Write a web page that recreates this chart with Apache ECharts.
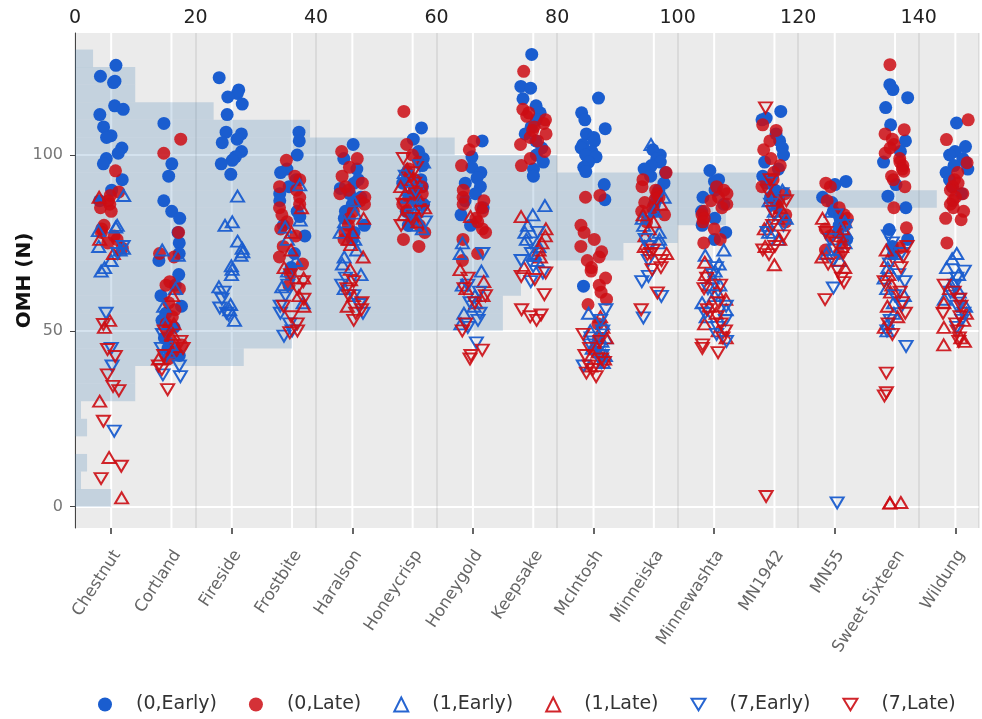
<!DOCTYPE html>
<html><head><meta charset="utf-8">
<script src="https://cdn.jsdelivr.net/npm/echarts@6/dist/echarts.min.js"></script>
<style>html,body{margin:0;padding:0;background:#fff}#c{width:982px;height:719px}</style>
</head><body><div id="c"></div>
<script>
const cultivars = ['Chestnut','Cortland','Fireside','Frostbite','Haralson','Honeycrisp','Honeygold','Keepsake','McIntosh','Minneiska','Minnewashta','MN1942','MN55','Sweet Sixteen','Wildung'];
const seriesNames = ['(0,Early)','(0,Late)','(1,Early)','(1,Late)','(7,Early)','(7,Late)'];
const yTicks = [0, 50, 100];
const countTicks = [0, 20, 40, 60, 80, 100, 120, 140];

// histogram of OMH (bins of 5 N)
const binStarts = [0,5,10,15,20,25,30,35,40,45,50,55,60,65,70,75,80,85,90,95,100,105,110,115,120,125];
const binCounts = [6,1,2,0,2,1,10,10,28,36,71,71,74,74,91,100,108,143,113,80,63,39,23,10,10,3];
const binWidth = 5;

// values per cultivar (same order as cultivars)
const d0Early = [
 [125.5,122.4,121,120.6,114,113,111.5,108,105.5,105,102,100.5,99,97.5,93,90,87],
 [109,97.5,94,87,84,82,78,75,72,70,66,63,60,57,55,53,51,48,45,43],
 [122,118.5,117.5,116.5,114.5,111.5,106.5,106,104.5,103.5,101,99.5,98.5,97.5,94.5],
 [106.5,104,100,96,95,93,91,89,87,84,82.5,80,77,72,68],
 [103,99,96,93,92,90.5,89,88,86,84,82,80,78,76],
 [107.7,104.5,101,99,97,95,93,92,91,89,88,86,84,82,80],
 [104,99.5,96.5,95,93.5,92,91,89,87,85,83,80],
 [128.6,119.5,119,116,114,112,110,108,106,104,102,100,98,96,94],
 [116.2,112,110,107.5,106,105,104,103,102,101,100,99.5,98,96.5,95.3,91.6,87.3,62.7],
 [101.5,100,99,98,97,96,95,94,92,90,88,86,84],
 [95.6,93,92.5,90,88,86,84,82,80,78,76],
 [112.4,110.5,110,106,104,102,100,98,96,94,92,90,88,86],
 [92.5,91.6,88,86.5,84,82,80,78,76],
 [120,118.6,116.3,113.5,108.6,104,101,98,91.6,88.3,85,78.8,76,74,72],
 [109.1,102.4,101,100,99,98,97,96,95,93,91,89]
];
const d0Late = [
 [95.5,89.5,88.5,87,86,85,84,80,79,78,77,76,75,73.5],
 [104.5,100.5,78,72,71,64,63,62,58,56,54,52,50,48,46,44,42],
 [],
 [98.5,94,93,91,90,88,86,85,83,81,79,77,74,71,69,66,63],
 [101,99,96.5,94,92,91,90,89,88,87,86,84,82,80,78,76],
 [112.4,103,100,98,96,94,93,91,90,89,87,86,84,82,80,78,76,74],
 [103.9,101.5,97,90,88,87,86,85,84,82,81,79,78,76,72,70],
 [123.8,113,112,111,110,109,108,107,106,105,104,103,101,99,97],
 [88.5,88,80,78,76,74,72.5,71,70,68,67,65,63,61,59,57.5,52,48,44],
 [95,93,91,90,89,88,87.5,86.5,85,84,83,81],
 [91,90,89,88,87,86,85,84,83,82,81,79,76,75],
 [108.6,107,104,101.5,99,97,95,93,91,89,87,85,83,81],
 [92,91,87,85,83,82,80,79,77,75,73,72],
 [125.7,107.2,106,104.5,103,102,100.5,99,98,97,96,95.4,94,93,91,85,79.3,73.6],
 [110,104.4,97.8,95,93,92,91,90,89,88,87,86,85,84,82,81.6,75]
];
const d1Early = [
 [88.5,80,79.5,78.5,74,73.5,73,70,68,67],
 [73,71.5,62,57,52,46,44],
 [88.3,81,80,75.5,73.5,72.5,71.5,68.5,67.5,66,62.5,57.5,56,53],
 [91.5,81.5,79.5,76,70,67,62.5,58],
 [87,83.5,81,78,76,73,71,69,66,62],
 [98,95,92,90,88,86,84,82,80,79],
 [75,72,67,63,60,57,55,52],
 [85.6,83,80,78,76,74,72,70],
 [55,52,50,48,47,45,43,41],
 [103,88,84,82,80,78,76,75],
 [73,71.5,69,67,65,63,60,58,56,54],
 [90,87,84,82,80,78,76],
 [84,81,78,75,72,70],
 [72,68,65,62,60,58,55,52,50],
 [72,70.5,68,66,64,63,61,59,57]
];
const d1Late = [
 [88,76,72,53,51,30,14,2.5],
 [60,52,49,45.5,42],
 [],
 [85,78,73,68,65,60,57],
 [82,78,76,74.5,71,67.5,64.5,60,57],
 [96,93,91,89,87,85,83,81],
 [82.5,67.4,64,62,60,58],
 [82.5,79,77,75,73,71,68],
 [54,51,48,46,44,42,40],
 [86,83,81,79,77,74,72],
 [69.5,66,63,61,59,57,55,52,50,48],
 [88,85,82,79,76,74,68.8],
 [82,79,77,74,71,68],
 [73,70,66,63,61,57,54,51,1.1,1.0,1.2],
 [62,58,55,53,51,48,47,46]
];
const d7Early = [
 [74,72,55,45,40,21.5],
 [49,45,43,40,37.5,37],
 [61,59,56.5,55,54.5],
 [63,60,57,55,52,50,48.5],
 [65,63,60,57.5,55],
 [97,94,90,87,85,83,81],
 [72,63,61,58,55,53,51,46.6],
 [78,75,72,70,68.3,66.5,64],
 [56,53,50,48,46,45,43,41,40],
 [76,74,70,65.5,64,59.8,53.7],
 [68,66,62,60,57,55,53,51,49,47],
 [92,89,86,83,80,78],
 [83,80,76,73,70,62.2,1.1],
 [77,75,72,69,66,64,60,57,53,50,45.6],
 [67,65,63,61,59,57,55,53,51]
];
const d7Late = [
 [51.8,44.7,42.7,37.5,34.2,33,24.3,11.5,8],
 [50,47,45,43,40,39,33.3],
 [],
 [66,64,62,59,57,54,52,50,49.5],
 [64,62,60,58,56,55,53],
 [99,95,92,89,86,84,82,80],
 [65,62,60,58,52,50,44.5,43,42],
 [66.5,65.5,64.6,60.3,56,54.5,54,53],
 [49,47,45,43,42,41,40,39,38,37],
 [73,72,71.7,70,68,67.4,60.8,56],
 [65,63,62,58,56,54,52,50,48,46,45,43.8],
 [113.4,93,90,87,84,80,77,74,73,71.7,2.9],
 [78,75,72,69,67,65,63.7,58.9],
 [74,71,68,64,61,58,55,52,49,38,32.4,31.5],
 [63,61,59,57,55,54,52,50,48,47]
];

const BLUE = '#1a5dcf', RED = '#cc0d14';
const FONT = 'DejaVu Sans';
const Y_MIN = -6.06, Y_MAX = 134.7;
const DOWN_TRI = 'path://M0,0 L12,0 L6,10 Z';

function toPoints(groups) {
  const out = [];
  groups.forEach((vals, i) => vals.forEach(v => out.push([cultivars[i], v])));
  return out;
}
const groups = [d0Early, d0Late, d1Early, d1Late, d7Early, d7Late];
const styles = [
  {symbol: 'circle', size: 13, rot: 0, col: BLUE, open: false, op: 1},
  {symbol: 'circle', size: 13, rot: 0, col: RED, open: false, op: 0.85},
  {symbol: 'triangle', size: [13, 11], rot: 0, col: BLUE, open: true, op: 0.95},
  {symbol: 'triangle', size: [13, 11], rot: 0, col: RED, open: true, op: 0.9},
  {symbol: 'triangle', size: [13, 11], rot: 180, col: BLUE, open: true, op: 0.95},
  {symbol: 'triangle', size: [13, 11], rot: 180, col: RED, open: true, op: 0.9}
];

const scatterSeries = groups.map((g, k) => {
  const s = styles[k];
  return {
    name: seriesNames[k], type: 'scatter', xAxisIndex: 1, yAxisIndex: 1,
    data: toPoints(g), symbol: s.symbol, symbolSize: s.size, symbolRotate: s.rot,
    z: 3,
    itemStyle: s.open
      ? {color: 'rgba(0,0,0,0)', borderColor: s.col, borderWidth: 2, opacity: s.op}
      : {color: s.col, opacity: s.op},
    emphasis: {disabled: true}
  };
});

const legendData = seriesNames.map((n, k) => styles[k].rot === 180
  ? {name: n, icon: DOWN_TRI, itemStyle: {color: 'rgba(0,0,0,0)', borderColor: styles[k].col, borderWidth: 2}}
  : {name: n});

const chart = echarts.init(document.getElementById('c'), null, {renderer: 'canvas'});
chart.setOption({
  animation: false,
  textStyle: {fontFamily: FONT},
  grid: [
    {left: 75, top: 33, width: 904, height: 495, show: true, backgroundColor: '#ebebeb', borderWidth: 0, outerBoundsMode: 'none', containLabel: false},
    {left: 81, top: 33, width: 904.5, height: 495, show: false, outerBoundsMode: 'none', containLabel: false},
    {left: 87, top: 33, width: 904.5, height: 495, show: false, outerBoundsMode: 'none', containLabel: false}
  ],
  xAxis: [
    {gridIndex: 0, type: 'value', position: 'top', min: 0, max: 150, interval: 20,
     axisLine: {show: false}, axisTick: {show: false},
     axisLabel: {fontSize: 19, color: '#222', margin: 5, fontFamily: FONT, customValues: countTicks},
     splitLine: {show: true, lineStyle: {color: 'rgba(0,0,0,0.07)', width: 2}}},
    {gridIndex: 1, type: 'category', data: cultivars, position: 'bottom', jitter: 26,
     axisLine: {show: true, onZero: false, lineStyle: {color: 'rgba(0,0,0,0)'}},
     axisTick: {show: true, alignWithLabel: true, length: 6, lineStyle: {color: '#333', width: 1.5}},
     axisLabel: {show: false},
     splitLine: {show: false}},
    {gridIndex: 2, type: 'category', data: cultivars, position: 'bottom',
     axisLine: {show: false, onZero: false}, axisTick: {show: false}, splitLine: {show: false},
     axisLabel: {rotate: 57, fontSize: 16.5, color: '#666', margin: 24, interval: 0, fontFamily: FONT}}
  ],
  yAxis: [
    {gridIndex: 0, type: 'value', min: Y_MIN, max: Y_MAX, splitNumber: 3,
     axisLine: {show: true, onZero: false, lineStyle: {color: '#444', width: 1}},
     axisTick: {show: true, length: 5, customValues: yTicks, lineStyle: {color: '#444'}},
     axisLabel: {customValues: yTicks, fontSize: 16, color: '#777', margin: 12, fontFamily: FONT},
     splitLine: {show: true, lineStyle: {color: '#ffffff', width: 2}},
     name: 'OMH (N)', nameLocation: 'middle', nameGap: 40, nameMoveOverlap: false,
     nameTextStyle: {fontSize: 20, fontWeight: 'bold', color: '#111', fontFamily: FONT}},
    {gridIndex: 1, type: 'value', min: Y_MIN, max: Y_MAX, show: false},
    {gridIndex: 2, type: 'value', min: Y_MIN, max: Y_MAX, show: false}
  ],
  legend: {
    data: legendData, left: 93, top: 690, itemWidth: 14, itemHeight: 14, itemGap: 32,
    textStyle: {fontSize: 19, color: '#333', fontFamily: FONT, padding: [0, 0, 0, 19]}
  },
  series: [
    {
      name: 'catgrid', type: 'custom', xAxisIndex: 1, yAxisIndex: 1, z: 1, silent: true,
      data: cultivars.map((c, i) => [i]),
      renderItem: (params, api) => {
        const i = api.value(0);
        const a = api.coord([i, Y_MAX]), b = api.coord([i, Y_MIN]);
        return {type: 'line', shape: {x1: a[0], y1: a[1], x2: b[0], y2: b[1]},
                style: {stroke: '#ffffff', lineWidth: 2}};
      }
    },
    {
      name: 'hist', type: 'custom', xAxisIndex: 0, yAxisIndex: 0, z: 2, silent: true,
      data: binStarts.map((s, i) => [s, s + binWidth, binCounts[i]]),
      encode: {x: 2, y: [0, 1]},
      renderItem: (params, api) => {
        const lo = api.value(0), hi = api.value(1), c = api.value(2);
        const p0 = api.coord([0, hi]), p1 = api.coord([c, lo]);
        return {type: 'rect', shape: {x: p0[0], y: p0[1], width: p1[0] - p0[0], height: p1[1] - p0[1]},
                style: {fill: 'rgba(70,130,180,0.23)'}};
      }
    },
    ...scatterSeries
  ]
});
</script>
</body></html>
